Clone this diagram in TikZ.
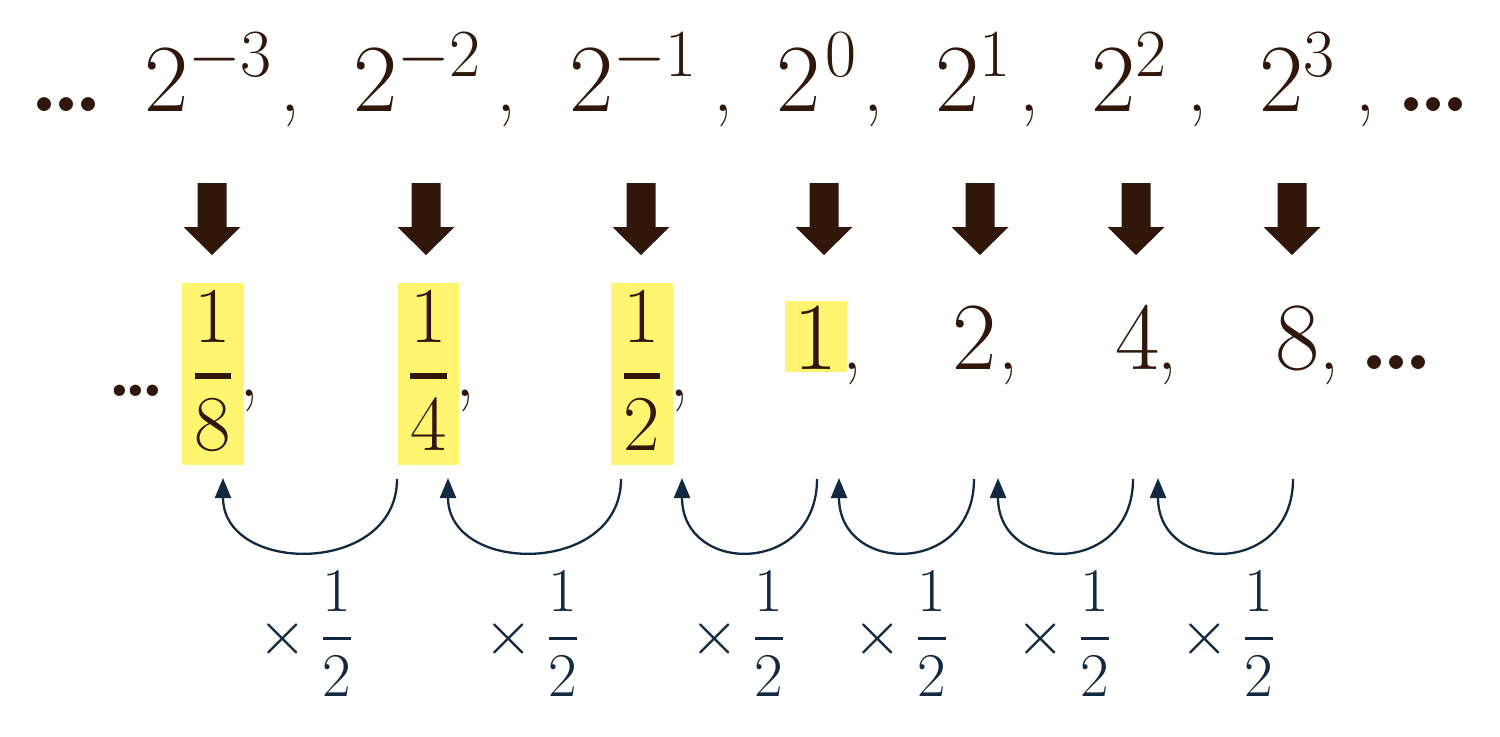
\RequirePackage{fix-cm}
\documentclass[tikz,border=0pt]{standalone}
\usetikzlibrary{arrows.meta}
\definecolor{tbrown}{RGB}{49,23,10}
\definecolor{hyel}{RGB}{255,245,112}
\definecolor{navy}{RGB}{17,41,65}
\newcommand\bigsz{\fontsize{27.4}{30}\selectfont}
\newcommand\midsz{\fontsize{22.5}{26}\selectfont}
\newcommand\smsz{\fontsize{17.7}{20}\selectfont}
\newcommand\hfr[2]{{\displaystyle{#1\above1.7pt#2}}}
\newcommand\lfr[2]{{\displaystyle{#1\above1.1pt#2}}}
\newcommand\dotsA{{\bfseries.\kern-2.2pt.\kern-2.2pt.}}
\newcommand\dotsB{{\bfseries.\kern-2.3pt.\kern-2.3pt.}}
\begin{document}
\begin{tikzpicture}[x=0.01cm,y=-0.01cm,
  big/.style={inner sep=0,outer sep=0,text=tbrown,font=\bigsz},
  mid/.style={inner sep=0,outer sep=0,text=tbrown,font=\midsz},
  lbl/.style={inner sep=0,outer sep=0,text=navy,font=\smsz},
  hl/.style={fill=hyel},
  blk/.style={fill=tbrown},
  halfarc/.style={draw=navy,line width=0.65pt,-{Triangle[length=0.2cm,width=0.16cm]}}]
\useasboundingbox (0,0) rectangle (1500,736);
\fill[white] (0,0) rectangle (1500,736);
% highlights
\fill[hl] (182,283) rectangle (244,465);
\fill[hl] (398,283) rectangle (459,465);
\fill[hl] (611,283) rectangle (673,465);
\fill[hl] (785,301) rectangle (847,372);
% top row
\node[big,anchor=base west] (t0) at (29,111) {\dotsA};
\node[big,anchor=base west] (t1) at (144,111) {$2^{-3}$};
\node[big,anchor=base west] (t2) at (353,111) {$2^{-2}$};
\node[big,anchor=base west] (t3) at (569,111) {$2^{-1}$};
\node[big,anchor=base west] (t4) at (776,111) {$2^{\kern1.5pt0}$};
\node[big,anchor=base west] (t5) at (935,111) {$2^{1}$};
\node[big,anchor=base west] (t6) at (1091,111) {$2^{2}$};
\node[big,anchor=base west] (t7) at (1259,111) {$2^{3}$};
\node[mid,anchor=base west] (tc1) at (280,111) {,};
\node[mid,anchor=base west] (tc2) at (496,111) {,};
\node[mid,anchor=base west] (tc3) at (713,111) {,};
\node[mid,anchor=base west] (tc4) at (863,111) {,};
\node[mid,anchor=base west] (tc5) at (1019,111) {,};
\node[mid,anchor=base west] (tc6) at (1187,111) {,};
\node[mid,anchor=base west] (tc7) at (1355,111) {,};
\node[big,anchor=base west] (t8) at (1396,111) {\dotsA};
% block arrows
\foreach \c/\n in {212/1,426/2,641/3,824/4,980/5,1136/6,1292/7}{
  \fill[blk] (\c-14.5,183) -- (\c+14.5,183) -- (\c+14.5,227) -- (\c+28.5,227)
    -- (\c,255) -- (\c-28.5,227) -- (\c-14.5,227) -- cycle;
}
% middle row
\node[mid,anchor=base west] (m0) at (107,396) {\dotsB};
\node[mid,anchor=base] (f1) at (213,396) {$\hfr{1}{8}$};
\node[mid,anchor=base] (f2) at (428.5,396) {$\hfr{1}{4}$};
\node[mid,anchor=base] (f3) at (642,396) {$\hfr{1}{2}$};
\node[mid,anchor=base west] (mc1) at (239,396) {,};
\node[mid,anchor=base west] (mc2) at (455,396) {,};
\node[mid,anchor=base west] (mc3) at (669,396) {,};
\node[big,anchor=base] (n1) at (816,369) {$1$};
\node[big,anchor=base] (n2) at (975,369) {$2$};
\node[big,anchor=base] (n3) at (1137.5,369) {$4$};
\node[big,anchor=base] (n4) at (1297.5,369) {$8$};
\node[mid,anchor=base west] (nc1) at (842,369) {,};
\node[mid,anchor=base west] (nc2) at (998,369) {,};
\node[mid,anchor=base west] (nc3) at (1157,369) {,};
\node[mid,anchor=base west] (nc4) at (1319,369) {,};
\node[big,anchor=base west] (n5) at (1359,369) {\dotsA};
% half-arcs
\foreach \s/\e/\i in {397/223/1,621/448/2,817/682/3,974/839/4,1133/998/5,1293/1158/6}{
  \coordinate (as\i) at (\s,479);
  \coordinate (ae\i) at (\e,478);
  \draw[halfarc] (as\i) .. controls +(0,97) and +(0,97) .. (ae\i);
}
% labels
\node[lbl,anchor=base west] (x1) at (258,654) {$\times\kern3.4pt\lfr{1}{2}$};
\node[lbl,anchor=base west] (x2) at (484,654) {$\times\kern3.4pt\lfr{1}{2}$};
\node[lbl,anchor=base west] (x3) at (690,654) {$\times\kern3.4pt\lfr{1}{2}$};
\node[lbl,anchor=base west] (x4) at (853,654) {$\times\kern3.4pt\lfr{1}{2}$};
\node[lbl,anchor=base west] (x5) at (1016,654) {$\times\kern3.4pt\lfr{1}{2}$};
\node[lbl,anchor=base west] (x6) at (1180,654) {$\times\kern3.4pt\lfr{1}{2}$};
\end{tikzpicture}
\end{document}
